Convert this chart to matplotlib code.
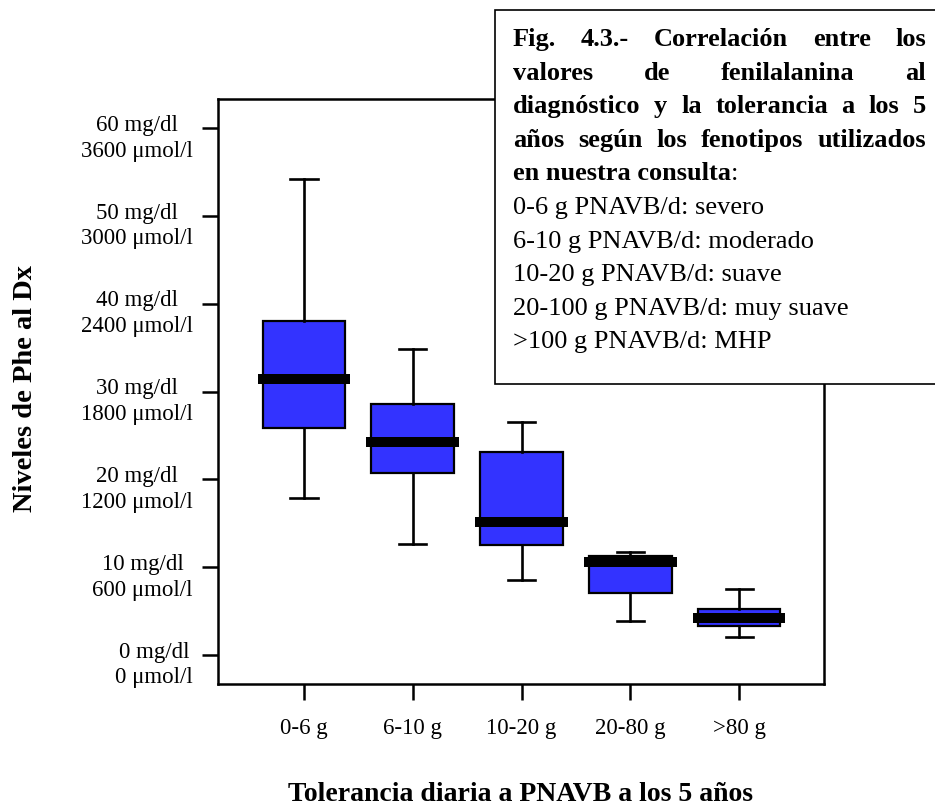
import matplotlib
matplotlib.use("Agg")
import matplotlib.pyplot as plt
from matplotlib.patches import Rectangle
from matplotlib.transforms import IdentityTransform, ScaledTranslation

plt.rcParams['font.family'] = ['Liberation Serif', 'DejaVu Serif']

# data (mg/dl)
groups = ['0-6 g', '6-10 g', '10-20 g', '20-80 g', '>80 g']
whis_hi = [54.2, 34.9, 26.5, 11.7, 7.5]
q3 = [38.0, 28.6, 23.1, 11.3, 5.2]
median = [31.4, 24.3, 15.2, 10.6, 4.2]
q1 = [25.9, 20.7, 12.5, 7.1, 3.3]
whis_lo = [17.9, 12.6, 8.5, 3.9, 2.1]

yticks = [0, 10, 20, 30, 40, 50, 60]
ytick_labels = ['%d mg/dl\n%d \u03bcmol/l' % (v, v * 60) for v in yticks]

xlabel = 'Tolerancia diaria a PNAVB a los 5 años'
ylabel = 'Niveles de Phe al Dx'

caption_bold = ['Fig. 4.3.- Correlación entre los',
                'valores de fenilalanina al',
                'diagnóstico y la tolerancia a los 5',
                'años según los fenotipos utilizados']
caption_plain = ['0-6 g PNAVB/d: severo',
                 '6-10 g PNAVB/d: moderado',
                 '10-20 g PNAVB/d: suave',
                 '20-100 g PNAVB/d: muy suave',
                 '>100 g PNAVB/d: MHP']

W, H = 935, 807
fig = plt.figure(figsize=(W / 100, H / 100), dpi=100)
ax = fig.add_axes([218 / W, 1 - 684 / H, (824 - 218) / W, (684 - 99) / H])

stats = []
for i in range(len(groups)):
    stats.append(dict(med=median[i], q1=q1[i], q3=q3[i],
                      whislo=whis_lo[i], whishi=whis_hi[i], fliers=[]))

ax.bxp(stats, positions=range(1, len(groups) + 1), widths=0.76,
       capwidths=0.25, patch_artist=True, showfliers=False,
       boxprops=dict(facecolor='#3333ff', edgecolor='black', linewidth=1.6),
       whiskerprops=dict(color='black', linewidth=1.9),
       capprops=dict(color='black', linewidth=1.9),
       medianprops=dict(color='black', linewidth=7.2,
                        solid_capstyle='projecting'))

ax.set_xlim(0.21, 5.78)
ax.set_ylim(-3.3, 63.33)
ax.set_xticks(range(1, len(groups) + 1))
ax.set_xticklabels(groups, fontsize=16.5)
ax.set_yticks(yticks)
ax.set_yticklabels(ytick_labels, fontsize=16.5, ha='right',
                   multialignment='center', linespacing=1.3)
ax.tick_params(axis='both', direction='out', length=11.5, width=1.8)
ax.tick_params(axis='x', pad=13)
ax.tick_params(axis='y', pad=6.5)
# the two-line labels sit a little below their ticks
shift = ScaledTranslation(0, -5 / 100, fig.dpi_scale_trans)
for lab in ax.get_yticklabels():
    lab.set_transform(lab.get_transform() + shift)
for sp in ax.spines.values():
    sp.set_linewidth(1.8)

fig.text(26 / W, 1 - 512 / H, ylabel, rotation=90, fontsize=20.5,
         fontweight='bold', ha='center', va='bottom')
fig.text(521 / W, 6 / H, xlabel, fontsize=20, fontweight='bold',
         ha='center', va='baseline')

# caption box in the upper right corner
fig.add_artist(Rectangle((495 / W, 1 - 384 / H), (W + 5 - 495) / W,
                         (384 - 10) / H, transform=fig.transFigure,
                         facecolor='white', edgecolor='black',
                         linewidth=1.2, zorder=5))

px = IdentityTransform()
left, right = 513, 926
base0, step = 46, 33.6
fs = 19
renderer = fig.canvas.get_renderer()

# justified bold lines
for i, line in enumerate(caption_bold):
    y = H - (base0 + i * step)
    words = line.split()
    texts = [fig.text(0, y, w, transform=px, fontsize=fs, fontweight='bold',
                      va='baseline', zorder=6) for w in words]
    widths = [t.get_window_extent(renderer).width for t in texts]
    gap = (right - left - sum(widths)) / (len(words) - 1)
    x = left
    for t, w in zip(texts, widths):
        t.set_x(x)
        x += w + gap

y = H - (base0 + 4 * step)
t = fig.text(left, y, 'en nuestra consulta', transform=px, fontsize=fs,
             fontweight='bold', va='baseline', zorder=6)
w = t.get_window_extent(renderer).width
fig.text(left + w, y, ':', transform=px, fontsize=fs, va='baseline', zorder=6)

for i, line in enumerate(caption_plain):
    y = H - (base0 + (5 + i) * step)
    fig.text(left, y, line, transform=px, fontsize=fs, va='baseline', zorder=6)

fig.savefig('out.png', dpi=100)
